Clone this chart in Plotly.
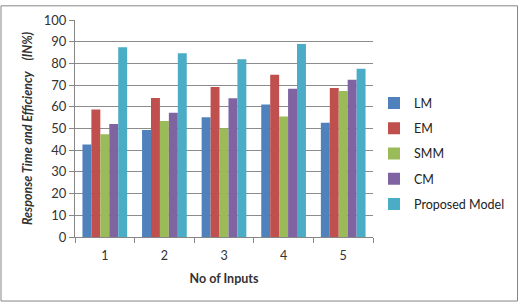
import plotly.graph_objects as go

categories = ["1", "2", "3", "4", "5"]
lm = [42.6, 49.3, 55.2, 61.1, 52.6]
em = [58.8, 64.0, 69.1, 74.8, 68.7]
smm = [47.3, 53.5, 50.1, 55.5, 67.3]
cm = [52.1, 57.3, 63.9, 68.3, 72.5]
pm = [87.5, 84.7, 81.9, 88.9, 77.5]

series = [("LM", lm, "#4F81BD"), ("EM", em, "#C0504D"), ("SMM", smm, "#9BBB59"),
          ("CM", cm, "#8064A2"), ("Proposed Model", pm, "#4BACC6")]

W, H = 522, 304
ml, mr, mt, mb = 75, 147, 15, 67
pw, ph = W - ml - mr, H - mt - mb

fig = go.Figure()
for name, vals, col in series:
    fig.add_trace(go.Bar(x=categories, y=vals, name=name, marker_color=col,
                         marker_line_width=0, legendgroup=name))

font = "Lato, 'Open Sans', sans-serif"
fig.update_layout(
    width=W, height=H,
    margin=dict(l=ml, r=mr, t=mt, b=mb),
    paper_bgcolor="white", plot_bgcolor="white",
    barmode="group", bargap=0.25, bargroupgap=0,
    font=dict(family=font, size=12, color="#333"),
    showlegend=True,
    legend=dict(x=(376 - ml) / pw, y=1 - (152 - mt) / ph, xanchor="left", yanchor="middle",
                font=dict(size=12.5, color="#222"), tracegroupgap=6,
                itemwidth=30, bgcolor="rgba(0,0,0,0)"),
    xaxis=dict(showline=True, linecolor="#868686", ticks="outside",
               tickson="boundaries", ticklen=5, tickcolor="#868686",
               tickfont=dict(size=12.5), showgrid=False, ticklabelstandoff=7,
               title=dict(text="<b>No of Inputs</b>", font=dict(size=12.5), standoff=12)),
    yaxis=dict(range=[0, 100], dtick=10, showline=True, linecolor="#868686",
               ticks="outside", ticklen=5, tickcolor="#868686",
               gridcolor="#8c8c8c", gridwidth=1, tickfont=dict(size=13),
               zeroline=False,
               title=dict(text="<b><i>Response Time and Efficiency    (IN%)</i></b>",
                          font=dict(size=12.5), standoff=8)),
    shapes=[dict(type="rect", xref="paper", yref="paper",
                 x0=(0.5 - ml) / pw, x1=(W - 1.5 - ml) / pw,
                 y0=-(mb - 1.5) / ph, y1=1 + (mt - 0.5) / ph,
                 line=dict(color="#868686", width=1))],
)
fig.write_html("out.html")
